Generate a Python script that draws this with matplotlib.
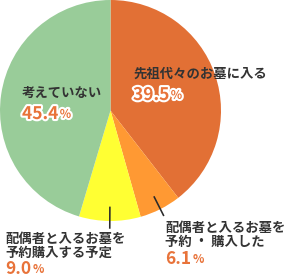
import numpy as np
import matplotlib.pyplot as plt
import matplotlib.patheffects as pe
from matplotlib.patches import Polygon

plt.rcParams['font.family'] = ['Noto Sans CJK JP', 'DejaVu Sans']

# data
labels = ['先祖代々のお墓に入る', '配偶者と入るお墓を\n予約 ・ 購入した',
          '配偶者と入るお墓を\n予約購入する予定', '考えていない']
values = [39.5, 6.1, 9.0, 45.4]
pct_text = ['39.5', '6.1', '9.0', '45.4']
colors = ['#E27035', '#FF9933', '#FFFF33', '#99CC99']

W, H = 285, 277
fig = plt.figure(figsize=(W / 100, H / 100), dpi=100)
ax = fig.add_axes([0, 0, 1, 1])
ax.axis('off')

cx, cy, R = 110.5, H - 110.5, 110.5
wedges, _ = ax.pie(values, colors=colors, startangle=90, counterclock=False,
                   center=(cx, cy), radius=R,
                   wedgeprops=dict(linewidth=0))
ax.set_aspect('auto')
ax.set_xlim(0, W)
ax.set_ylim(0, H)

# leader lines for the two small slices (thin filled strips)
for i in (1, 2):
    w = wedges[i]
    ang = np.deg2rad((float(w.theta1) + float(w.theta2)) / 2)
    r0, r1 = 0.87 * R, 1.07 * R
    ux, uy = np.cos(ang), np.sin(ang)
    nx, ny = -uy * 0.8, ux * 0.8
    p0 = (cx + r0 * ux, cy + r0 * uy)
    p1 = (cx + r1 * ux, cy + r1 * uy)
    ax.add_patch(Polygon([(p0[0] + nx, p0[1] + ny), (p1[0] + nx, p1[1] + ny),
                          (p1[0] - nx, p1[1] - ny), (p0[0] - nx, p0[1] - ny)],
                         closed=True, facecolor='#2a2a2a', edgecolor='none',
                         zorder=5))

# label placement (pixel coords from top-left)
lab_pos = [(133, 74), (165, 235), (5, 246), (22, 93)]
pct_pos = [(133, 95), (165, 259), (5, 269), (22, 114)]
outline = [True, False, False, True]

for i in range(4):
    lx, ly = lab_pos[i]
    ax.text(lx, H - ly, labels[i], fontsize=9.6, fontweight='bold',
            color='#333333', ha='left', va='center', linespacing=1.05)
    px, py = pct_pos[i]
    effects = [pe.withStroke(linewidth=3, foreground='white')] if outline[i] else []
    t = ax.text(px, H - py, pct_text[i], fontsize=12.5, fontweight='bold',
                color='#E8733A', ha='left', va='center', path_effects=effects)
    ax.annotate('%', xy=(1, 0.12), xycoords=t, xytext=(1, 0),
                textcoords='offset points', fontsize=8.5, fontweight='bold',
                color='#E8733A', ha='left', va='bottom', path_effects=effects)

fig.savefig('out.png', dpi=100)
